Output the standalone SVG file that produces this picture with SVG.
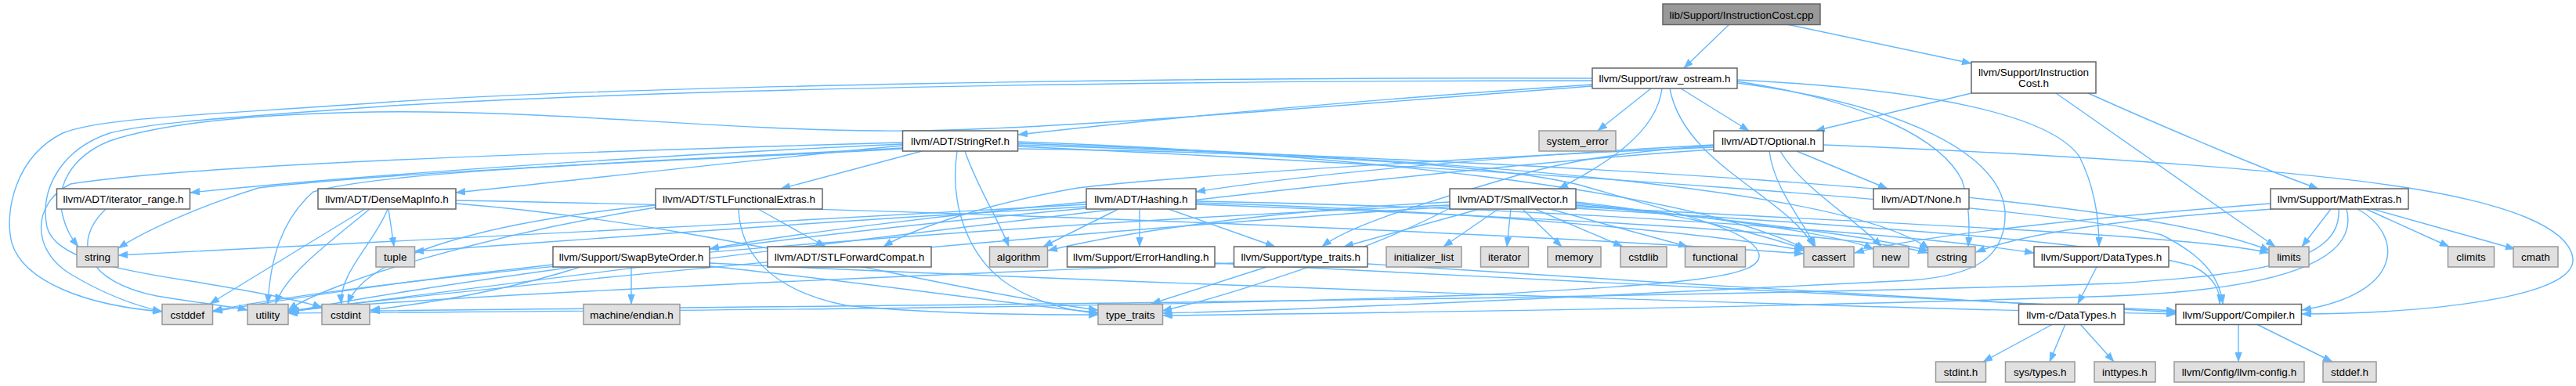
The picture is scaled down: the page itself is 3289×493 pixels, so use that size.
<svg xmlns="http://www.w3.org/2000/svg" width="3289" height="493" viewBox="0 0 3289 493">
<style>
.node rect{fill:#ffffff;stroke:#666666;stroke-width:1.5}
.root rect{fill:#999999;stroke:#666666;stroke-width:1.5}
.ext rect{fill:#e0e0e0;stroke:#999999;stroke-width:1.5}
text{font-family:"Liberation Sans",Arial,sans-serif;font-size:13.5px;text-anchor:middle;fill:#000000}
#edges path{fill:none;stroke:#63b8ff;stroke-width:1.4;marker-end:url(#ah)}
</style>
<defs>
<marker id="ah" markerUnits="userSpaceOnUse" viewBox="0 0 12 9" markerWidth="12" markerHeight="9" refX="12" refY="4.5" orient="auto">
<path d="M0,0 L12,4.5 L0,9 z" fill="#63b8ff" stroke="#63b8ff" stroke-width="0.5"/>
</marker>
</defs>
<rect width="3289" height="493" fill="#ffffff"/>
<g id="edges">
<path d="M2208,31 L2150,87"/>
<path d="M2281,31 L2517,81"/>
<path d="M2517,119 L2318,167"/>
<path d="M2625,119 L2905,315"/>
<path d="M2666,119 C2780,170 2900,220 2960,241"/>
<path d="M2108,113 L2040,167"/>
<path d="M2146,113 L2233,167"/>
<path d="M2122,113 C2115,170 2050,210 1990,241"/>
<path d="M2132,113 C2150,210 2280,250 2316,315"/>
<path d="M2033,108 C1700,130 1450,155 1300,172"/>
<path d="M2033,100 C1500,98 800,110 500,130 C250,148 130,150 80,170 C20,200 5,270 15,310 C30,360 110,390 207,398"/>
<path d="M2033,103 C1500,103 900,112 500,135 C300,150 200,155 140,170 C80,190 50,240 60,290 C70,330 150,345 250,360 C340,375 390,385 411,393"/>
<path d="M2033,110 C1700,135 1300,170 1122,167 C900,165 700,140 476,143 C300,146 200,160 140,180 C90,200 70,240 80,275 C85,295 92,305 100,315"/>
<path d="M2218,102 C2480,115 2620,150 2655,200 C2675,240 2680,280 2680,315"/>
<path d="M2218,104 C2390,130 2480,180 2505,230 C2515,260 2515,290 2513,315"/>
<path d="M2218,106 C2440,135 2555,200 2560,270 C2562,330 2520,352 2440,358 C2100,375 1700,395 1484,400"/>
<path d="M1152,186 C950,205 720,232 582,246"/>
<path d="M1177,193 L997,241"/>
<path d="M1152,184 C800,200 450,225 243,246"/>
<path d="M1152,189 C850,205 500,220 330,240 C250,265 185,295 151,317"/>
<path d="M1152,190 C900,205 500,215 400,245 C360,280 345,330 342,388"/>
<path d="M1152,182 C700,195 250,210 90,235 C40,260 40,320 90,350 C140,380 180,392 207,398"/>
<path d="M1232,193 C1248,240 1275,280 1288,315"/>
<path d="M1222,193 C1212,260 1235,330 1290,365 C1330,390 1375,398 1402,400"/>
<path d="M1299,181 C1700,195 2150,240 2305,318"/>
<path d="M1299,183 C1800,200 2350,235 2463,318"/>
<path d="M1299,185 C1900,205 2700,240 2898,320"/>
<path d="M1299,187 C1900,215 2600,260 2760,300 C2820,330 2835,360 2838,388"/>
<path d="M1299,190 C1700,195 1950,215 2030,240 C2150,275 2240,295 2246,325 C2250,355 2150,362 1900,376 C1400,396 700,397 368,400"/>
<path d="M968,267 L1054,315"/>
<path d="M943,267 C945,320 980,370 1080,390 C1200,402 1330,402 1402,402"/>
<path d="M837,262 C650,280 470,320 444,388"/>
<path d="M837,265 C620,300 420,360 368,396"/>
<path d="M496,267 L503,315"/>
<path d="M466,267 L268,388"/>
<path d="M472,267 C420,310 365,350 352,388"/>
<path d="M495,267 C478,310 432,350 436,388"/>
<path d="M582,256 C1100,265 1900,295 2303,324"/>
<path d="M582,260 C900,285 1200,370 1402,396"/>
<path d="M1428,267 L1332,315"/>
<path d="M1455,267 L1455,315"/>
<path d="M1492,267 L1628,315"/>
<path d="M1387,258 C1200,275 1000,300 906,318"/>
<path d="M1527,257 C2000,265 2450,300 2597,323"/>
<path d="M1527,259 C1900,270 2200,300 2303,320"/>
<path d="M1527,261 C2000,278 2380,300 2461,323"/>
<path d="M1387,261 C1000,285 400,312 151,326"/>
<path d="M1387,264 C1000,285 700,310 529,321"/>
<path d="M1387,266 C1000,300 500,370 368,399"/>
<path d="M1889,267 L1716,315"/>
<path d="M1913,267 L1843,315"/>
<path d="M1929,267 L1924,315"/>
<path d="M1944,267 L1994,315"/>
<path d="M1960,267 L2072,315"/>
<path d="M1979,267 L2155,315"/>
<path d="M2012,258 C2150,272 2250,300 2303,318"/>
<path d="M2012,260 C2200,278 2350,300 2392,318"/>
<path d="M2012,262 C2250,283 2400,305 2462,320"/>
<path d="M2012,264 C2400,285 2800,300 2897,323"/>
<path d="M2012,266 C2400,290 2700,310 2800,340 C2830,355 2835,375 2834,388"/>
<path d="M1851,258 C1600,270 1420,300 1338,320"/>
<path d="M1851,262 C1200,290 500,350 272,397"/>
<path d="M1851,266 C1750,320 1560,380 1484,397"/>
<path d="M1851,264 C1300,300 600,370 368,397"/>
<path d="M2188,185 C1900,200 1650,225 1527,245"/>
<path d="M2188,188 C1900,200 1500,225 1376,240 C1250,262 1160,295 1128,315"/>
<path d="M2294,193 L2410,241"/>
<path d="M2259,193 C2265,240 2300,280 2318,315"/>
<path d="M2273,193 C2300,240 2370,280 2402,315"/>
<path d="M2188,186 C2050,195 1980,210 1900,235 C1800,265 1720,290 1688,315"/>
<path d="M2328,185 C2700,200 2950,220 3075,240 C3200,260 3280,290 3285,330 C3290,380 3100,400 2939,401"/>
<path d="M2188,191 C1800,215 900,330 370,398"/>
<path d="M1617,341 L1470,388"/>
<path d="M1575,336 C1200,350 500,380 368,398"/>
<path d="M1746,337 C2100,360 2600,390 2778,399"/>
<path d="M1551,336 C2000,360 2600,385 2778,397"/>
<path d="M806,341 L806,388"/>
<path d="M906,340 C1100,360 1300,390 1402,399"/>
<path d="M706,338 C500,360 350,385 272,398"/>
<path d="M741,341 C650,370 550,387 473,396"/>
<path d="M906,336 C1400,360 2300,392 2778,401"/>
<path d="M2976,267 L2939,315"/>
<path d="M3021,267 L3127,315"/>
<path d="M3029,267 L3211,318"/>
<path d="M3010,267 C3070,300 3070,375 2939,396"/>
<path d="M2902,267 C2700,280 2580,300 2523,322"/>
<path d="M2899,260 C2700,275 2450,300 2368,323"/>
<path d="M2986,267 C2990,330 2900,350 2700,362 C2000,385 900,392 473,397"/>
<path d="M2996,267 C3010,320 2950,368 2700,378 C2200,395 1700,400 1485,403"/>
<path d="M2677,341 L2653,388"/>
<path d="M2621,414 L2532,462"/>
<path d="M2637,414 L2617,462"/>
<path d="M2656,414 L2699,462"/>
<path d="M2858,414 L2858,462"/>
<path d="M2881,414 L2978,462"/>
<path d="M135,267 C90,310 110,360 200,378 C260,388 300,392 316,396"/>
</g>
<g id="n0" class="root"><rect x="2123" y="5" width="201" height="26.5"/><text x="2223.5" y="23.5">lib/Support/InstructionCost.cpp</text></g>
<g id="n1" class="node"><rect x="2033" y="87" width="185" height="26"/><text x="2125.5" y="105">llvm/Support/raw_ostream.h</text></g>
<g id="n2" class="node"><rect x="2517" y="79" width="159" height="40"/><text x="2596.5" y="97">llvm/Support/Instruction</text><text x="2596.5" y="111">Cost.h</text></g>
<g id="n3" class="node"><rect x="1152.5" y="167" width="147" height="26"/><text x="1226" y="185">llvm/ADT/StringRef.h</text></g>
<g id="n4" class="ext"><rect x="1965" y="167" width="98" height="26"/><text x="2014" y="185">system_error</text></g>
<g id="n5" class="node"><rect x="2188" y="167" width="140" height="26"/><text x="2258" y="185">llvm/ADT/Optional.h</text></g>
<g id="n6" class="node"><rect x="72.5" y="241" width="170" height="26"/><text x="157.5" y="259">llvm/ADT/iterator_range.h</text></g>
<g id="n7" class="node"><rect x="406" y="241" width="176" height="26"/><text x="494" y="259">llvm/ADT/DenseMapInfo.h</text></g>
<g id="n8" class="node"><rect x="837" y="241" width="213" height="26"/><text x="943.5" y="259">llvm/ADT/STLFunctionalExtras.h</text></g>
<g id="n9" class="node"><rect x="1387" y="241" width="140" height="26"/><text x="1457" y="259">llvm/ADT/Hashing.h</text></g>
<g id="n10" class="node"><rect x="1851" y="241" width="161" height="26"/><text x="1931.5" y="259">llvm/ADT/SmallVector.h</text></g>
<g id="n11" class="node"><rect x="2392" y="241" width="122" height="26"/><text x="2453" y="259">llvm/ADT/None.h</text></g>
<g id="n12" class="node"><rect x="2899" y="241" width="176" height="26"/><text x="2987" y="259">llvm/Support/MathExtras.h</text></g>
<g id="n13" class="ext"><rect x="98" y="315" width="53" height="26"/><text x="124.5" y="333">string</text></g>
<g id="n14" class="ext"><rect x="480" y="315" width="49.5" height="26"/><text x="504.75" y="333">tuple</text></g>
<g id="n15" class="node"><rect x="706" y="315" width="200" height="26"/><text x="806" y="333">llvm/Support/SwapByteOrder.h</text></g>
<g id="n16" class="node"><rect x="980" y="315" width="209" height="26"/><text x="1084.5" y="333">llvm/ADT/STLForwardCompat.h</text></g>
<g id="n17" class="ext"><rect x="1263.5" y="315" width="74" height="26"/><text x="1300.5" y="333">algorithm</text></g>
<g id="n18" class="node"><rect x="1362.5" y="315" width="188.5" height="26"/><text x="1456.75" y="333">llvm/Support/ErrorHandling.h</text></g>
<g id="n19" class="node"><rect x="1575.5" y="315" width="170.5" height="26"/><text x="1660.75" y="333">llvm/Support/type_traits.h</text></g>
<g id="n20" class="ext"><rect x="1770" y="315" width="96" height="26"/><text x="1818" y="333">initializer_list</text></g>
<g id="n21" class="ext"><rect x="1890.5" y="315" width="61" height="26"/><text x="1921" y="333">iterator</text></g>
<g id="n22" class="ext"><rect x="1976" y="315" width="68" height="26"/><text x="2010" y="333">memory</text></g>
<g id="n23" class="ext"><rect x="2069" y="315" width="59" height="26"/><text x="2098.5" y="333">cstdlib</text></g>
<g id="n24" class="ext"><rect x="2151.5" y="315" width="77" height="26"/><text x="2190" y="333">functional</text></g>
<g id="n25" class="ext"><rect x="2303" y="315" width="64" height="26"/><text x="2335" y="333">cassert</text></g>
<g id="n26" class="ext"><rect x="2392" y="315" width="45" height="26"/><text x="2414.5" y="333">new</text></g>
<g id="n27" class="ext"><rect x="2461.5" y="315" width="60.5" height="26"/><text x="2491.75" y="333">cstring</text></g>
<g id="n28" class="node"><rect x="2597" y="315" width="172" height="26"/><text x="2683" y="333">llvm/Support/DataTypes.h</text></g>
<g id="n29" class="ext"><rect x="2897" y="315" width="51" height="26"/><text x="2922.5" y="333">limits</text></g>
<g id="n30" class="ext"><rect x="3125.5" y="315" width="59" height="26"/><text x="3155" y="333">climits</text></g>
<g id="n31" class="ext"><rect x="3209" y="315" width="57" height="26"/><text x="3237.5" y="333">cmath</text></g>
<g id="n32" class="ext"><rect x="207" y="388.5" width="64.5" height="26"/><text x="239.25" y="406.5">cstddef</text></g>
<g id="n33" class="ext"><rect x="316" y="388.5" width="52" height="26"/><text x="342" y="406.5">utility</text></g>
<g id="n34" class="ext"><rect x="411" y="388.5" width="61" height="26"/><text x="441.5" y="406.5">cstdint</text></g>
<g id="n35" class="ext"><rect x="745" y="388.5" width="123" height="26"/><text x="806.5" y="406.5">machine/endian.h</text></g>
<g id="n36" class="ext"><rect x="1402" y="388.5" width="82.5" height="26"/><text x="1443.25" y="406.5">type_traits</text></g>
<g id="n37" class="node"><rect x="2577.5" y="388.5" width="134.5" height="26"/><text x="2644.75" y="406.5">llvm-c/DataTypes.h</text></g>
<g id="n38" class="node"><rect x="2778" y="388.5" width="160.5" height="26"/><text x="2858.25" y="406.5">llvm/Support/Compiler.h</text></g>
<g id="n39" class="ext"><rect x="2471.5" y="462" width="64" height="26"/><text x="2503.5" y="480">stdint.h</text></g>
<g id="n40" class="ext"><rect x="2560.5" y="462" width="88.5" height="26"/><text x="2604.75" y="480">sys/types.h</text></g>
<g id="n41" class="ext"><rect x="2674" y="462" width="78" height="26"/><text x="2713" y="480">inttypes.h</text></g>
<g id="n42" class="ext"><rect x="2776" y="462" width="166" height="26"/><text x="2859" y="480">llvm/Config/llvm-config.h</text></g>
<g id="n43" class="ext"><rect x="2966" y="462" width="68" height="26"/><text x="3000" y="480">stddef.h</text></g>
</svg>
